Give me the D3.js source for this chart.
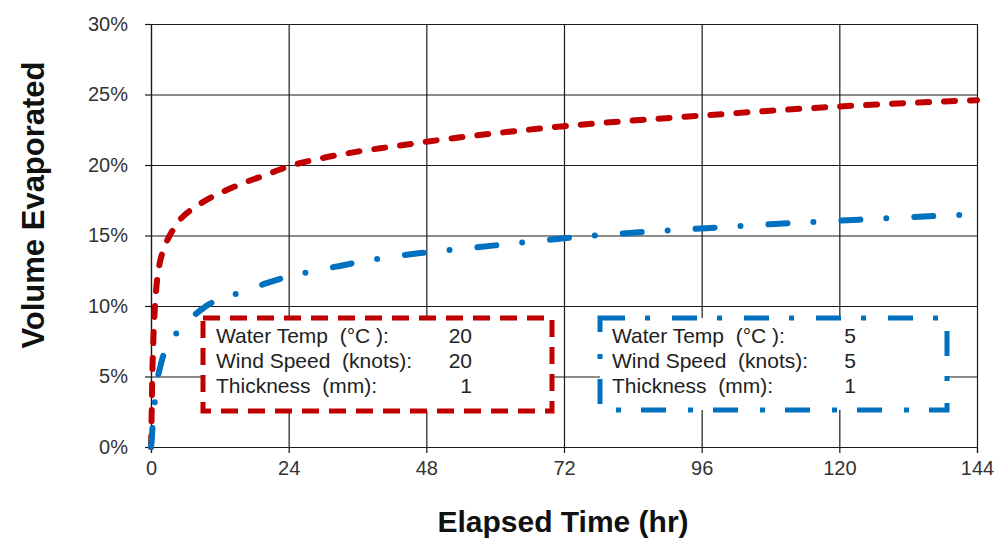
<!DOCTYPE html>
<html>
<head>
<meta charset="utf-8">
<script src="https://cdn.jsdelivr.net/npm/d3@7"></script>
<style>
  html, body { margin: 0; padding: 0; background: #fff; }
  svg { display: block; }
  text { font-family: "Liberation Sans", Arial, sans-serif; }
</style>
</head>
<body>
<svg id="chart" width="1003" height="540"></svg>
<script>
// ---- data ----
const hours = [0, 0.1, 0.2, 0.4, 0.7, 1, 1.5, 2, 3, 4, 5, 6, 8, 10, 12, 16, 20, 24, 30, 36, 42, 48, 60, 72, 84, 96, 108, 120, 132, 144];
const warmSeries = [0, 0.020, 0.045, 0.075, 0.100, 0.116, 0.130, 0.138, 0.148, 0.155, 0.161, 0.165, 0.171, 0.176, 0.180, 0.187, 0.193, 0.199, 0.205, 0.2095, 0.213, 0.2165, 0.2225, 0.2275, 0.2315, 0.235, 0.2385, 0.2415, 0.244, 0.246];
const coldSeries = [0, 0.004, 0.010, 0.022, 0.033, 0.045, 0.055, 0.063, 0.072, 0.078, 0.084, 0.088, 0.095, 0.101, 0.105, 0.110, 0.116, 0.121, 0.126, 0.131, 0.135, 0.138, 0.143, 0.148, 0.152, 0.155, 0.158, 0.1605, 0.163, 0.165];
const xTicks = [0, 24, 48, 72, 96, 120, 144];
const yTicks = [0, 0.05, 0.10, 0.15, 0.20, 0.25, 0.30];
const legendLabels = ["Water Temp  (°C ):", "Wind Speed  (knots):", "Thickness  (mm):"];
const warmParams = [20, 20, 1];
const coldParams = [5, 5, 1];

// ---- layout ----
const plotL = 151, plotR = 977, plotT = 24, plotB = 447;
const red = "#C00000", blue = "#0070C0";
const redDash = "11,15", blueDash = "19,26,0,28";

const svg = d3.select("#chart");
const x = d3.scaleLinear().domain([0, 144]).range([plotL, plotR]);
const y = d3.scaleLinear().domain([0, 0.30]).range([plotB, plotT]);

// gridlines
svg.append("g")
  .attr("transform", `translate(${plotL},0)`)
  .call(d3.axisLeft(y).tickValues(yTicks).tickSize(-(plotR - plotL)).tickFormat(""))
  .call(g => g.select(".domain").remove())
  .call(g => g.selectAll("line").attr("stroke", "#1a1a1a").attr("stroke-width", 1.2));
svg.append("g")
  .attr("transform", `translate(0,${plotB})`)
  .call(d3.axisBottom(x).tickValues(xTicks).tickSize(-(plotB - plotT)).tickFormat(""))
  .call(g => g.select(".domain").remove())
  .call(g => g.selectAll("line").attr("stroke", "#1a1a1a").attr("stroke-width", 1.2));

// axes
const yAxis = svg.append("g")
  .attr("transform", `translate(${plotL},0)`)
  .call(d3.axisLeft(y).tickValues(yTicks).tickSize(6).tickPadding(17).tickFormat(d3.format(".0%")));
const xAxis = svg.append("g")
  .attr("transform", `translate(0,${plotB})`)
  .call(d3.axisBottom(x).tickValues(xTicks).tickSize(6).tickPadding(8).tickFormat(d3.format("d")));
[yAxis, xAxis].forEach(a => {
  a.select(".domain").attr("stroke", "#1a1a1a").attr("stroke-width", 1.2);
  a.selectAll("line").attr("stroke", "#1a1a1a").attr("stroke-width", 1.2);
  a.selectAll("text").attr("font-size", 20).attr("fill", "#333")
    .attr("font-family", "Liberation Sans, Arial, sans-serif");
});

// series
const line = d3.line().x((d, i) => x(hours[i])).y(d => y(d)).curve(d3.curveMonotoneX);
svg.append("path").datum(warmSeries)
  .attr("d", line).attr("fill", "none").attr("stroke", red)
  .attr("stroke-width", 6).attr("stroke-linecap", "round").attr("stroke-dasharray", redDash);
svg.append("path").datum(coldSeries)
  .attr("d", line).attr("fill", "none").attr("stroke", blue)
  .attr("stroke-width", 6).attr("stroke-linecap", "round").attr("stroke-dasharray", blueDash);

// legend boxes
function legendBox(bx, by, bw, bh, color, dash, params, textX, valueX) {
  const g = svg.append("g");
  g.append("rect").attr("x", bx).attr("y", by).attr("width", bw).attr("height", bh)
    .attr("fill", "#fff").attr("stroke", color).attr("stroke-width", 5)
    .attr("stroke-dasharray", dash);
  legendLabels.forEach((lab, i) => {
    g.append("text").attr("x", textX).attr("y", by + 25 + i * 25)
      .attr("font-size", 21).attr("fill", "#222").style("white-space", "pre")
      .text(lab);
    g.append("text").attr("x", valueX).attr("y", by + 25 + i * 25)
      .attr("font-size", 21).attr("fill", "#222").attr("text-anchor", "end")
      .text(params[i]);
  });
}
legendBox(203, 318, 349, 93, red, "17,10", warmParams, 216, 472);
legendBox(600, 318, 347, 92, blue, "25,20,5,22", coldParams, 612, 856);

// axis titles
svg.append("text")
  .attr("transform", `translate(44,205) rotate(-90)`)
  .attr("text-anchor", "middle").attr("font-size", 31).attr("font-weight", "bold")
  .attr("fill", "#111").text("Volume Evaporated");
svg.append("text")
  .attr("x", 563).attr("y", 532)
  .attr("text-anchor", "middle").attr("font-size", 30).attr("font-weight", "bold")
  .attr("fill", "#111").text("Elapsed Time (hr)");
</script>
</body>
</html>
